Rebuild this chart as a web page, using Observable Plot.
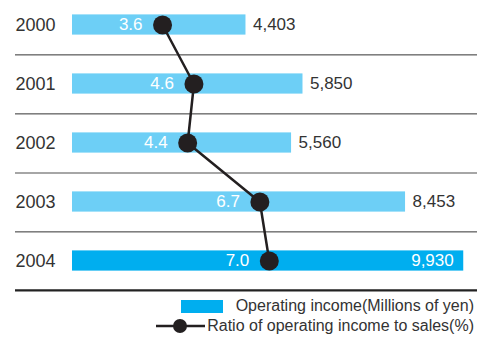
<!DOCTYPE html>
<html>
<head>
<meta charset="utf-8">
<script src="https://cdn.jsdelivr.net/npm/d3@7"></script>
<script src="https://cdn.jsdelivr.net/npm/@observablehq/plot@0.6"></script>
<style>
  html, body { margin: 0; padding: 0; background: #fff; }
  body { width: 478px; height: 338px; overflow: hidden; font-family: 'Liberation Sans', Arial, sans-serif; }
  #legend { width: 478px; color: #333; font-size: 16px; }
  .row { display: flex; justify-content: flex-end; align-items: center; height: 20px; padding-right: 4px; }
  .row svg { display: block; }
</style>
</head>
<body>
<div id="chart"></div>
<div id="legend">
  <div class="row"><svg width="42" height="13" style="margin-right:13px"><rect width="42" height="13" fill="#00aeef"/></svg><span>Operating income(Millions of yen)</span></div>
  <div class="row"><svg width="49" height="16" style="margin-right:2px"><line x1="0" x2="49" y1="8" y2="8" stroke="#231f20" stroke-width="2.5"/><circle cx="24" cy="8" r="7" fill="#231f20"/></svg><span>Ratio of operating income to sales(%)</span></div>
</div>
<script>
const years = ["2000", "2001", "2002", "2003", "2004"];
const income = [4403, 5850, 5560, 8453, 9930];
const ratio = [3.6, 4.6, 4.4, 6.7, 7.0];
const highlightYear = "2004";

const data = years.map((year, i) => ({year, income: income[i], ratio: ratio[i]}));

// the ratio series shares the horizontal axis: map ratio onto the income scale
const pxPerUnit = 394 / 10000;
const ratioX = r => (r * 31.4 - 23) / pxPerUnit;

const step = 59.75;
const fmt = d3.format(",");
const dark = "#231f20";

const chart = Plot.plot({
  width: 478,
  height: 296,
  marginLeft: 15,
  marginRight: 1,
  marginTop: 0,
  marginBottom: 0,
  style: {fontFamily: "'Liberation Sans', Arial, sans-serif", background: "#fff"},
  x: {domain: [0, 10000], range: [72, 466], axis: null},
  y: {type: "band", domain: years, range: [22.5 - step / 2, 22.5 - step / 2 + 5 * step], padding: 0, axis: null},
  marks: [
    Plot.barX(data.filter(d => d.year !== highlightYear), {x: "income", y: "year", fill: "#6dcff6", insetTop: 19.4, insetBottom: 19.4}),
    Plot.barX(data.filter(d => d.year === highlightYear), {x: "income", y: "year", fill: "#00aeef", insetTop: 19.4, insetBottom: 19.4}),
    Plot.ruleY(["2000", "2001", "2003"], {y: d => d, dy: step / 2, stroke: "#333", strokeWidth: 1}),
    Plot.ruleY(["2002"], {y: d => d, dy: step / 2, stroke: "#888", strokeWidth: 1.5}),
    Plot.ruleY([highlightYear], {y: d => d, dy: step / 2 - 0.5, stroke: "#222", strokeWidth: 2.2}),
    Plot.text(years, {y: d => d, frameAnchor: "left", textAnchor: "start", fontSize: 18, fill: "#333"}),
    Plot.text(data.filter(d => d.year !== highlightYear), {x: "income", y: "year", text: d => fmt(d.income), dx: 7, textAnchor: "start", fontSize: 17, fill: "#333"}),
    Plot.text(data.filter(d => d.year === highlightYear), {x: "income", y: "year", text: d => fmt(d.income), dx: -10, textAnchor: "end", fontSize: 17, fill: "#fff"}),
    Plot.text(data, {x: d => ratioX(d.ratio), y: "year", text: d => d.ratio.toFixed(1), dx: -20, textAnchor: "end", fontSize: 17, fill: "#fff"}),
    Plot.line(data, {x: d => ratioX(d.ratio), y: "year", stroke: dark, strokeWidth: 2.5}),
    Plot.dot(data, {x: d => ratioX(d.ratio), y: "year", r: 9.5, fill: dark, stroke: "none"})
  ]
});
document.getElementById("chart").appendChild(chart);
</script>
</body>
</html>
